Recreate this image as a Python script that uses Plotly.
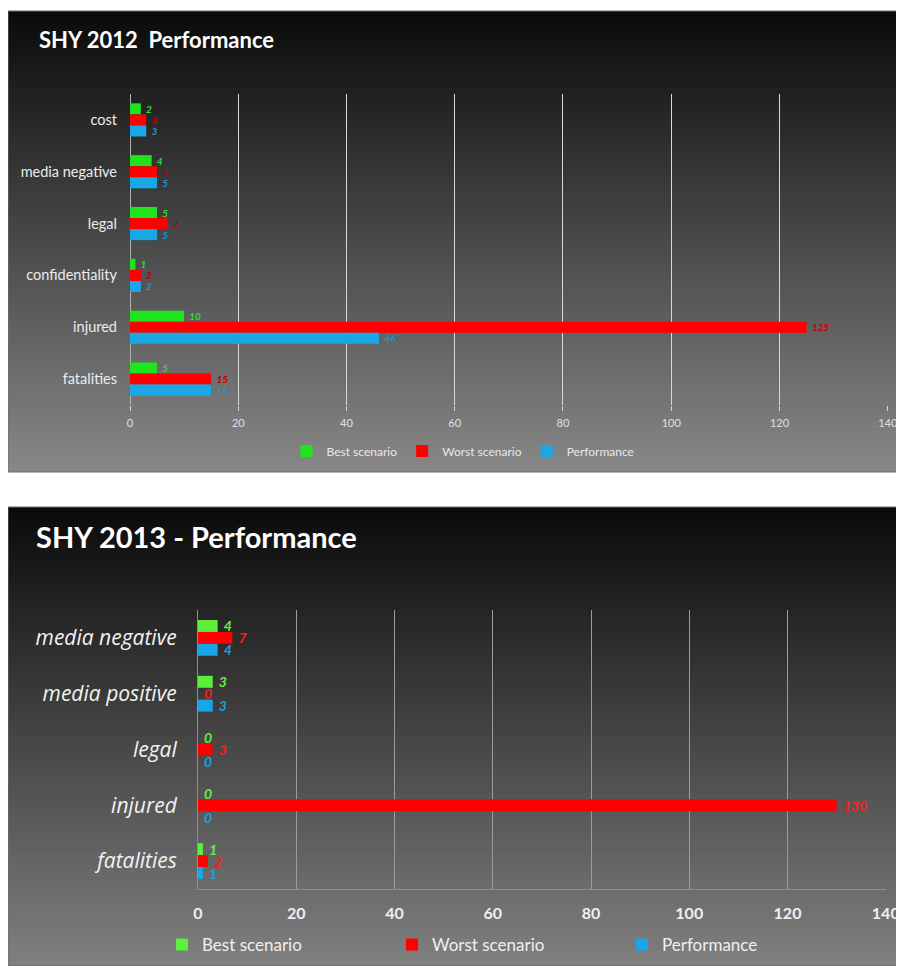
import plotly.graph_objects as go

# ---------------- data ----------------
cats_2012 = ["cost", "media negative", "legal", "confidentiality", "injured", "fatalities"]
best_2012 = [2, 4, 5, 1, 10, 5]
worst_2012 = [3, 5, 7, 2, 125, 15]
perf_2012 = [3, 5, 5, 2, 46, 15]

cats_2013 = ["media negative", "media positive", "legal", "injured", "fatalities"]
best_2013 = [4, 3, 0, 0, 1]
worst_2013 = [7, 0, 3, 130, 2]
perf_2013 = [4, 3, 0, 0, 1]

series_names = ["Best scenario", "Worst scenario", "Performance"]
x_ticks = [0, 20, 40, 60, 80, 100, 120, 140]

FONT = "Lato, 'Liberation Sans', sans-serif"
FONT2 = "'Open Sans', Lato, sans-serif"

W, H = 896, 958
fig = go.Figure()

def fy(page_y):
    """page y pixel -> paper fraction (figure sits 8px from page top)"""
    return 1 - (page_y - 8) / H

def fx(page_x):
    return (page_x - 8) / W

# ---------------- top chart (2012) ----------------
top_colors = ["#1fe51f", "#ff0000", "#1aa7e6"]
top_text_colors = ["#2fdc2f", "#c00000", "#1e96d2"]
for name, vals, col, tcol in zip(series_names, [best_2012, worst_2012, perf_2012], top_colors, top_text_colors):
    fig.add_trace(go.Bar(
        y=cats_2012, x=vals, orientation="h", name=name,
        marker=dict(color=col, line=dict(width=0)),
        text=vals, texttemplate=" %{x}", textposition="outside",
        textfont=dict(family=FONT, size=10, color=tcol, style="italic", weight="bold"),
        constraintext="none", cliponaxis=False,
        xaxis="x", yaxis="y", legend="legend",
    ))

# ---------------- bottom chart (2013) ----------------
bot_colors = ["#5cf03c", "#ff0000", "#19a6e8"]
bot_text_colors = ["#66ee44", "#ff1a1a", "#1aa0e0"]
for name, vals, col, tcol in zip(series_names, [best_2013, worst_2013, perf_2013], bot_colors, bot_text_colors):
    fig.add_trace(go.Bar(
        y=cats_2013, x=vals, orientation="h", name=name,
        marker=dict(color=col, line=dict(width=0)),
        text=vals, texttemplate=" %{x}", textposition="outside",
        textfont=dict(family=FONT, size=14, color=tcol, style="italic", weight="bold"),
        constraintext="none", cliponaxis=False,
        xaxis="x2", yaxis="y2", legend="legend2",
    ))

# ---------------- background gradients ----------------
shapes = []
def gradient(y0, y1, c0, c1, n=90):
    # stacked rectangles all anchored at the panel bottom: no seams
    for i in range(n):
        top = y1 - (y1 - y0) * i / n
        c = int(round(c0 + (c1 - c0) * (i + 0.5) / n))
        shapes.append(dict(type="rect", xref="paper", yref="paper", x0=0.0, x1=1.0,
                           y0=y0, y1=top, fillcolor=f"rgb({c},{c},{c})",
                           line=dict(width=0), layer="below"))
    shapes.append(dict(type="rect", xref="paper", yref="paper", x0=0.0, x1=1.0,
                       y0=y0, y1=y1, line=dict(color="#6e6e6e", width=1),
                       fillcolor="rgba(0,0,0,0)", layer="below"))

gradient(fy(472), fy(11), 10, 136)
gradient(0.0, fy(507), 10, 128)

fig.update_layout(
    template="none",
    width=W, height=H,
    margin=dict(l=0, r=0, t=0, b=0, autoexpand=False),
    paper_bgcolor="white", plot_bgcolor="rgba(0,0,0,0)",
    font=dict(family=FONT, color="#e6e6e6"),
    barmode="group", bargap=0.36, bargroupgap=0.0,
    shapes=shapes,
    xaxis=dict(domain=[fx(130), fx(888)], range=[0, 140.05], tickvals=x_ticks,
               showgrid=True, gridcolor="#d8d8d8", gridwidth=1,
               zeroline=True, zerolinecolor="#b0b0b0", zerolinewidth=1,
               showline=False, ticks="outside", ticklen=5, tickcolor="#d8d8d8",
               tickfont=dict(family="'Liberation Sans Narrow', " + FONT, size=11, color="#e0e0e0"),
               ticklabelstandoff=3, ticklabeloverflow="allow", automargin=False,
               anchor="y", fixedrange=True),
    yaxis=dict(domain=[fy(405), fy(94)], categoryorder="array", categoryarray=cats_2012,
               autorange="reversed", showgrid=False, zeroline=False, showline=False,
               ticks="", tickfont=dict(family=FONT, size=14.5, color="#ececec"),
               ticklabelstandoff=12, automargin=False, anchor="x", fixedrange=True),
    xaxis2=dict(domain=[fx(198), fx(886)], range=[0, 140.05], tickvals=x_ticks,
                showgrid=True, gridcolor="#9c9c9c", gridwidth=1,
                zeroline=False, showline=True, linecolor="#8e8e8e", linewidth=1,
                ticks="", tickfont=dict(family=FONT, size=16, color="#f0f0f0", weight="bold"),
                ticklabelstandoff=10, ticklabeloverflow="allow", automargin=False,
                anchor="y2", fixedrange=True),
    yaxis2=dict(domain=[fy(889), fy(610)], categoryorder="array", categoryarray=cats_2013,
                autorange="reversed", showgrid=False, zeroline=False,
                showline=True, linecolor="#8e8e8e", linewidth=1,
                ticks="", tickfont=dict(family=FONT2, size=21, color="#f2f2f2", style="italic"),
                ticklabelstandoff=16, automargin=False, anchor="x2", fixedrange=True),
    legend=dict(orientation="h", x=fx(463), xanchor="center", y=fy(451), yanchor="middle",
                bgcolor="rgba(0,0,0,0)", font=dict(family=FONT, size=12, color="#e8e8e8"),
                itemwidth=30, traceorder="normal"),
    legend2=dict(orientation="h", x=fx(507), xanchor="center", y=fy(945), yanchor="middle",
                 bgcolor="rgba(0,0,0,0)", font=dict(family=FONT, size=17, color="#f0f0f0"),
                 itemwidth=30, traceorder="normal", entrywidth=185),
    annotations=[
        dict(text="<b>SHY 2012  Performance</b>", xref="paper", yref="paper",
             x=fx(37), y=fy(40), xanchor="left", yanchor="middle", showarrow=False,
             font=dict(family=FONT, size=22, color="#ffffff")),
        dict(text="<b>SHY 2013 - Performance</b>", xref="paper", yref="paper",
             x=fx(34), y=fy(536), xanchor="left", yanchor="middle", showarrow=False,
             font=dict(family=FONT, size=29, color="#ffffff")),
    ],
)

fig.write_html("out.html", post_script="document.documentElement.style.overflow='hidden';document.body.style.overflow='hidden';")
